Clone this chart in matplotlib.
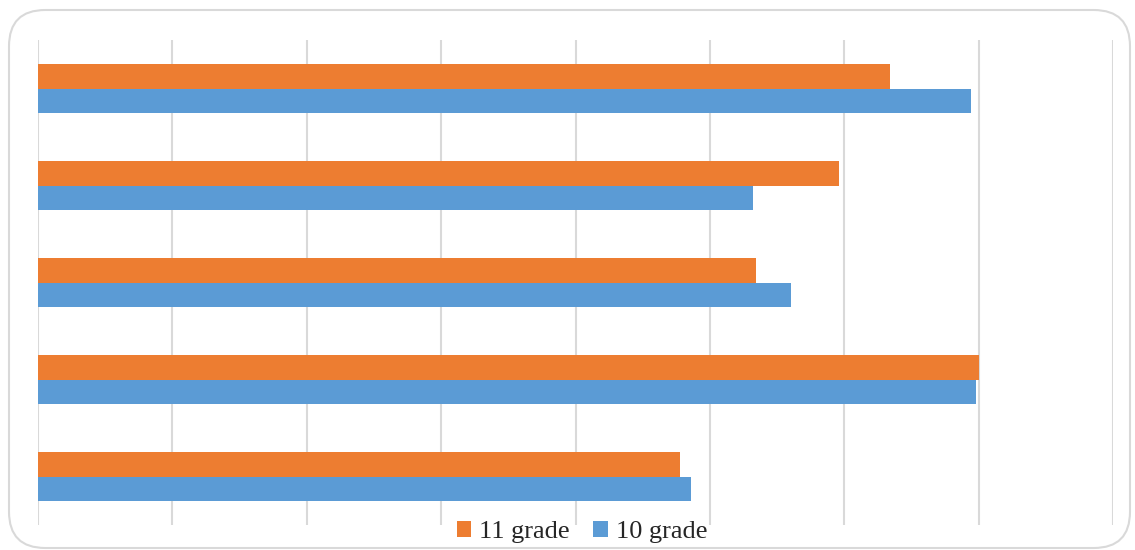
import matplotlib
matplotlib.use("Agg")
import matplotlib.pyplot as plt
from matplotlib.patches import FancyBboxPatch
import numpy as np

categories = ["Item 1", "Item 2", "Item 3", "Item 4", "Item 5"]  # top to bottom
grade11 = [63.4, 59.6, 53.4, 70.0, 47.8]
grade10 = [69.4, 53.2, 56.0, 69.8, 48.6]
x_ticks = [0, 10, 20, 30, 40, 50, 60, 70, 80]

orange = "#ED7D31"
blue = "#5B9BD5"

fig = plt.figure(figsize=(11.35, 5.5), dpi=100)
W, H = 1135, 550
border = FancyBboxPatch((9 / W, 2 / H), 1121 / W, 538 / H,
                        boxstyle="round,pad=0,rounding_size=0.032",
                        transform=fig.transFigure, facecolor="none",
                        edgecolor="#D9D9D9", linewidth=1.5, mutation_aspect=W / H,
                        zorder=-1)
fig.patches.append(border)

ax = fig.add_axes([38 / W, (H - 525) / H, (1113 - 38) / W, (525 - 40) / H])
ax.set_facecolor("none")

n = len(categories)
y = np.arange(n)[::-1]
h = 0.257
ax.barh(y + h / 2, grade11, height=h, color=orange, label="11 grade", zorder=3)
ax.barh(y - h / 2, grade10, height=h, color=blue, label="10 grade", zorder=3)

ax.set_xlim(x_ticks[0], x_ticks[-1])
ax.set_ylim(-0.5, n - 0.5)
ax.set_xticks(x_ticks)
ax.set_yticks([])
ax.tick_params(axis="x", length=0, labelbottom=False)
ax.grid(axis="x", color="#D9D9D9", linewidth=1.5, zorder=0)
for s in ax.spines.values():
    s.set_visible(False)

leg = fig.legend(loc="center", bbox_to_anchor=(582 / W, (H - 532) / H),
                 ncol=2, frameon=False,
                 prop={"family": "Liberation Serif", "size": 19},
                 handlelength=0.55, handleheight=0.55, handletextpad=0.3,
                 columnspacing=0.9, borderpad=0)
for t in leg.get_texts():
    t.set_color("#262626")

fig.savefig("out.png", dpi=100)
